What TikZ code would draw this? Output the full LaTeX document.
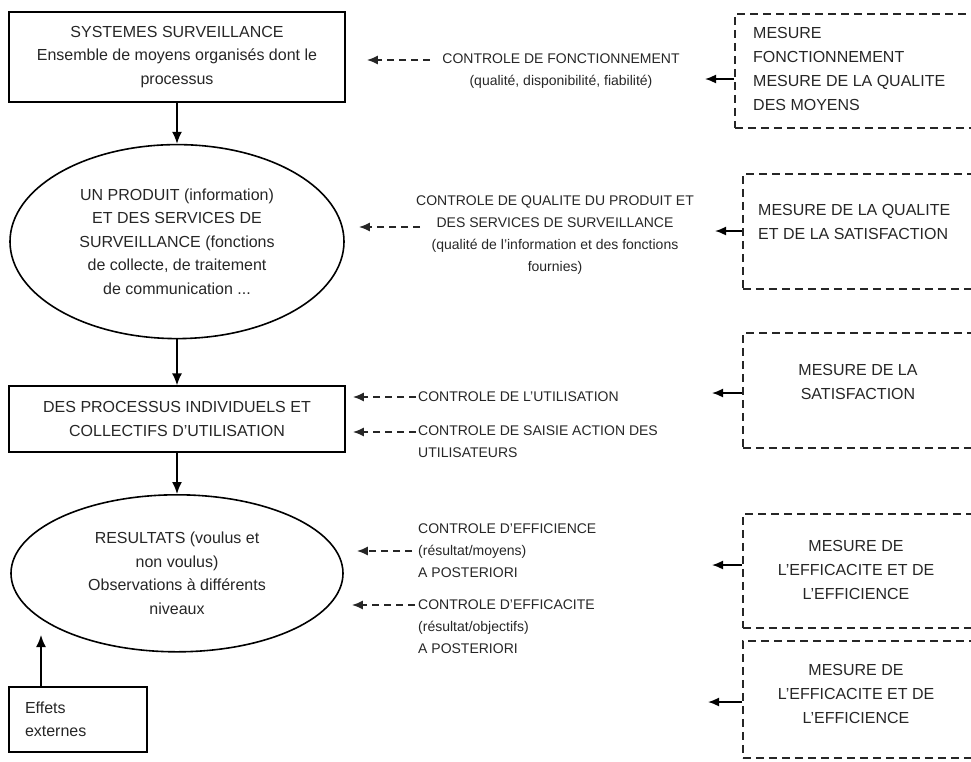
\documentclass[tikz,border=0pt]{standalone}
\usepackage{fontspec}
\setmainfont{Liberation Sans}
\usetikzlibrary{arrows.meta,positioning,shapes.geometric}
\tikzset{
  mbox/.style={draw, line width=1.6pt, align=center, inner sep=0pt,
               font=\fontsize{16}{23.5}\selectfont, text=black!85},
  mell/.style={mbox, ellipse},
  ctext/.style={align=center, inner sep=0pt,
               font=\fontsize{14}{22}\selectfont, text=black!85},
  ltext/.style={ctext, align=left, anchor=west},
  dbox/.style={draw=black!85, line width=1.9pt, dash pattern=on 8pt off 5pt,
               anchor=north west, minimum width=260pt},
  dtext/.style={inner sep=0pt, font=\fontsize{16}{24}\selectfont, text=black!85},
  flow/.style={-{Latex[length=12pt,width=10pt]}, line width=1.6pt},
  dflow/.style={-{Latex[length=11pt,width=9pt]}, line width=1.8pt, draw=black!85,
               dash pattern=on 7pt off 5pt},
  sflow/.style={-{Latex[length=11pt,width=9pt]}, line width=1.6pt},
}
\begin{document}
\begin{tikzpicture}[x=1pt, y=-1pt]
  \useasboundingbox (0,0) rectangle (971,761);
  % main column
  \node[mbox, minimum width=336pt, minimum height=90pt] (sys) at (177,57)
    {SYSTEMES SURVEILLANCE\\ Ensemble de moyens organisés dont le\\ processus};
  \node[mell, minimum width=334pt, minimum height=194pt, below=41pt of sys] (prod)
    {UN PRODUIT (information)\\ ET DES SERVICES DE\\ SURVEILLANCE (fonctions\\
     de collecte, de traitement\\ de communication ...};
  \node[mbox, minimum width=336pt, minimum height=66pt, below=46pt of prod] (proc)
    {DES PROCESSUS INDIVIDUELS ET\\ COLLECTIFS D'UTILISATION};
  \node[mell, minimum width=332pt, minimum height=157pt, below=41pt of proc] (res)
    {RESULTATS (voulus et\\ non voulus)\\ Observations à différents\\ niveaux};
  \node[mbox, minimum width=138pt, minimum height=65pt, text width=106pt,
        align=left] (ext) at (78,719.5) {Effets\\ externes};
  \draw[flow] (sys) -- (prod);
  \draw[flow] (prod) -- (proc);
  \draw[flow] (proc) -- (res);
  \coordinate (e1) at (41,635);
  \draw[flow] (e1 |- ext.north) -- (e1);

  % controls
  \node[ctext] (c1) at (561,71)
    {CONTROLE DE FONCTIONNEMENT\\ (qualité, disponibilité, fiabilité)};
  \node[ctext] (c2) at (555,235)
    {CONTROLE DE QUALITE DU PRODUIT ET\\ DES SERVICES DE SURVEILLANCE\\
     (qualité de l'information et des fonctions\\ fournies)};
  \node[ltext] (c3a) at (418,397) {CONTROLE DE L'UTILISATION};
  \node[ltext] (c3b) at (418,442) {CONTROLE DE SAISIE ACTION DES\\ UTILISATEURS};
  \node[ltext] (c4a) at (418,551)
    {CONTROLE D'EFFICIENCE\\ (résultat/moyens)\\ A POSTERIORI};
  \node[ltext] (c4b) at (418,627)
    {CONTROLE D'EFFICACITE\\ (résultat/objectifs)\\ A POSTERIORI};
  \coordinate (a1) at (430,60);
  \coordinate (a2) at (420,227);
  \coordinate (a3) at (416,397);
  \coordinate (a4) at (416,432);
  \coordinate (a5) at (412,551);
  \coordinate (a6) at (415,605);
  \draw[dflow, shorten >=21pt] (a1) -- (a1 -| sys.east);
  \draw[dflow, shorten >=14pt] (a2) -- (a2 -| prod.east);
  \draw[dflow, shorten >=7pt] (a3) -- (a3 -| proc.east);
  \draw[dflow, shorten >=7pt] (a4) -- (a4 -| proc.east);
  \draw[dflow, shorten >=13pt] (a5) -- (a5 -| res.east);
  \draw[dflow, shorten >=8pt] (a6) -- (a6 -| res.east);

  % measures
  \node[dbox, minimum height=114pt] (mes1) at (734,13) {};
  \node[dtext, anchor=west, align=left] (mes1t) at (753,68.5)
    {MESURE\\ FONCTIONNEMENT\\ MESURE DE LA QUALITE\\ DES MOYENS};
  \node[dbox, minimum height=115pt] (mes2) at (742,173) {};
  \node[dtext, anchor=west, align=left] (mes2t) at (758,221.5)
    {MESURE DE LA QUALITE\\ ET DE LA SATISFACTION};
  \node[dbox, minimum height=115pt] (mes3) at (742,332) {};
  \node[dtext, align=center] (mes3t) at (858,381.5) {MESURE DE LA\\ SATISFACTION};
  \node[dbox, minimum height=114pt] (mes4) at (742,513) {};
  \node[dtext, align=center] (mes4t) at (856,570)
    {MESURE DE\\ L'EFFICACITE ET DE\\ L'EFFICIENCE};
  \node[dbox, minimum height=117pt] (mes5) at (742,640) {};
  \node[dtext, align=center] (mes5t) at (856,694)
    {MESURE DE\\ L'EFFICACITE ET DE\\ L'EFFICIENCE};
  \coordinate (m1) at (705,79);
  \coordinate (m2) at (715,231);
  \coordinate (m3) at (712,393);
  \coordinate (m4) at (712,565);
  \coordinate (m5) at (708,702);
  \draw[sflow] (m1 -| mes1.west) -- (m1);
  \draw[sflow] (m2 -| mes2.west) -- (m2);
  \draw[sflow] (m3 -| mes3.west) -- (m3);
  \draw[sflow] (m4 -| mes4.west) -- (m4);
  \draw[sflow] (m5 -| mes5.west) -- (m5);
\end{tikzpicture}
\end{document}
